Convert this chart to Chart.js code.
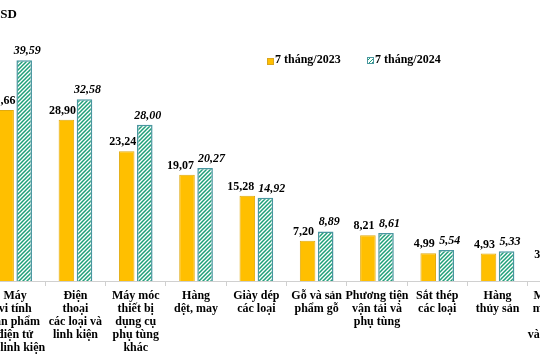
<!DOCTYPE html>
<html>
<head>
<meta charset="utf-8">
<script src="https://cdn.jsdelivr.net/npm/chart.js@4.4.1/dist/chart.umd.min.js"></script>
<style>
  html, body { margin: 0; padding: 0; background: #fff; }
  #wrap { position: relative; width: 540px; height: 360px; overflow: hidden; }
  #c { position: absolute; left: -40px; top: 0; }
  .txt { position: absolute; font-family: "Liberation Serif", "Times New Roman", serif;
         font-weight: bold; color: #000; white-space: nowrap; }
  .unit { top: 6px; right: 523px; font-size: 13px; text-align: right; }
  .sw { position: absolute; width: 5px; height: 5px; }
  .sw1 { left: 267px; top: 58px; background: #FFBF00; border: 1px solid #d9a520; }
  .sw2 { left: 367px; top: 57px; border: 1px solid #4a96a0;
         background: repeating-linear-gradient(-45deg, #1f9f78 0 1px, #fff 1px 2.5px); }
  .lg { top: 52px; font-size: 12px; }
</style>
</head>
<body>
<div id="wrap">
  <canvas id="c" width="640" height="360"></canvas>
  <div class="txt unit">Tỷ USD</div>
  <div class="sw sw1"></div><div class="txt lg" id="lg1" style="left:275px"></div>
  <div class="sw sw2"></div><div class="txt lg" id="lg2" style="left:375px"></div>
</div>
<script>
var FONT = '"Liberation Serif", "Times New Roman", serif'

var seriesNames = ["7 tháng/2023", "7 tháng/2024"]
var categories  =
  [ ["Máy", "vi tính", "sản phẩm", "điện tử", "và linh kiện"]
  , ["Điện", "thoại", "các loại và", "linh kiện"]
  , ["Máy móc", "thiết bị", "dụng cụ", "phụ tùng", "khác"]
  , ["Hàng", "dệt, may"]
  , ["Giày dép", "các loại"]
  , ["Gỗ và sản", "phẩm gỗ"]
  , ["Phương tiện", "vận tải và", "phụ tùng"]
  , ["Sắt thép", "các loại"]
  , ["Hàng", "thủy sản"]
  , ["Máy ảnh,", "máy quay", "phim", "và linh kiện"]
  ]
var values2023 = [30.66, 28.90, 23.24, 19.07, 15.28, 7.20, 8.21, 4.99, 4.93, 3.02]
var values2024 = [39.59, 32.58, 28.00, 20.27, 14.92, 8.89, 8.61, 5.54, 5.33, 3.68]

document.getElementById("lg1").textContent = seriesNames[0]
document.getElementById("lg2").textContent = seriesNames[1]

var canvas = document.getElementById("c")
  , ctx    = canvas.getContext("2d")

// white tile with "/" stripes, like the 2024 bars
function makeHatch() {
  var p = document.createElement("canvas")
  p.width = 4; p.height = 4
  var g = p.getContext("2d")
  g.fillStyle = "#fff"
  g.fillRect(0, 0, 4, 4)
  g.strokeStyle = "#1f9f78"
  g.lineWidth = 1.5
  g.beginPath()
  g.moveTo(-1, 5); g.lineTo(5, -1)
  g.moveTo(-1, 1); g.lineTo(1, -1)
  g.moveTo(3, 5);  g.lineTo(5, 3)
  g.stroke()
  return ctx.createPattern(p, "repeat")
}

function fmt(v) { return v.toFixed(2).replace(".", ",") }

// value labels above the bars, pushed apart when a pair would collide
var valueLabels = {
  id: "valueLabels",
  afterDatasetsDraw: function(chart) {
    var c  = chart.ctx
      , a  = chart.getDatasetMeta(0).data
      , b  = chart.getDatasetMeta(1).data
    c.save()
    c.fillStyle = "#000"
    c.textAlign = "center"
    c.textBaseline = "alphabetic"
    for (var i = 0; i < categories.length; i++) {
      var t0 = fmt(values2023[i]), t1 = fmt(values2024[i])
      c.font = "bold 12px " + FONT
      var w0 = c.measureText(t0).width
      c.font = "italic bold 12px " + FONT
      var w1 = c.measureText(t1).width
      var x0 = a[i].x - 4, x1 = b[i].x + 3
        , y0 = a[i].y - 6, y1 = b[i].y - 6
      if (Math.abs(y0 - y1) < 14) {
        var mid = (a[i].x + b[i].x) / 2
        x0 = Math.min(x0, mid - 2 - w0 / 2)
        x1 = Math.max(x1, mid + 2 + w1 / 2)
      }
      c.font = "bold 12px " + FONT
      c.fillText(t0, x0, y0)
      c.font = "italic bold 12px " + FONT
      c.fillText(t1, x1, y1)
    }
    c.restore()
  }
}

new Chart(ctx, {
  type: "bar",
  data: {
    labels: categories,
    datasets: [
      { label: seriesNames[0], data: values2023, backgroundColor: "#FFBF00",
        borderColor: "#e0aa10", borderWidth: 1,
        categoryPercentage: 0.6, barPercentage: 0.86 },
      { label: seriesNames[1], data: values2024, backgroundColor: makeHatch(),
        borderColor: "#4a96a0", borderWidth: 1.5,
        categoryPercentage: 0.6, barPercentage: 0.86 }
    ]
  },
  options: {
    responsive: false,
    animation: false,
    devicePixelRatio: 1,
    layout: { padding: { left: 25, right: 12, top: 30, bottom: 0 } },
    plugins: { legend: { display: false }, tooltip: { enabled: false } },
    scales: {
      x: {
        grid: { display: true, drawOnChartArea: false, drawTicks: true, tickLength: 5,
                color: "#d0d0d0", offset: true },
        border: { display: true, color: "#d0d0d0", width: 1 },
        ticks: { color: "#000", padding: 3, maxRotation: 0, autoSkip: false,
                 font: { family: FONT, size: 12, weight: "bold", lineHeight: 1.1 } },
        afterFit: function(s) { s.height = 79 }
      },
      y: { display: false, min: 0, max: 45 }
    }
  },
  plugins: [valueLabels]
})
</script>
</body>
</html>
